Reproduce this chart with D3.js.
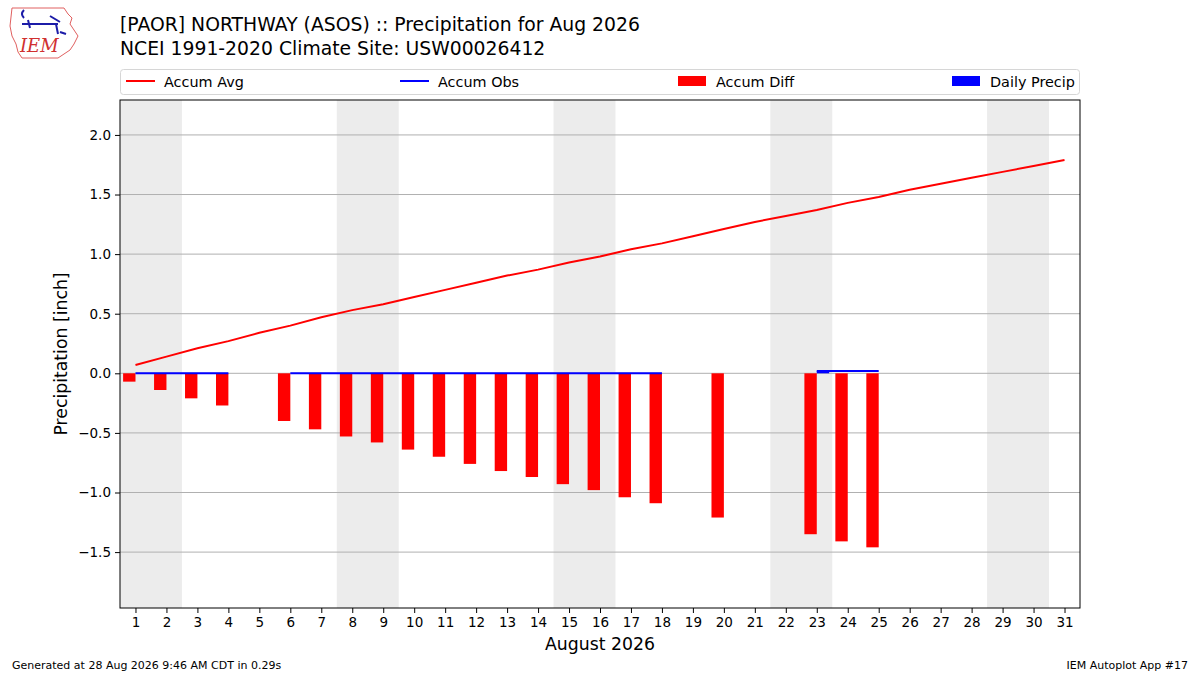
<!DOCTYPE html>
<html>
<head>
<meta charset="utf-8">
<script src="https://cdn.jsdelivr.net/npm/d3@7"></script>
<style>
  body { margin: 0; background: #fff; }
  svg { font-family: "DejaVu Sans", sans-serif; }
</style>
</head>
<body>
<svg id="chart" width="1200" height="675"></svg>
<script>
// values
const days = d3.range(1, 32);
const accumAvg = [0.07, 0.14, 0.21, 0.27, 0.34, 0.40, 0.47, 0.53, 0.58, 0.64,
                  0.70, 0.76, 0.82, 0.87, 0.93, 0.98, 1.04, 1.09, 1.15, 1.21,
                  1.27, 1.32, 1.37, 1.43, 1.48, 1.54, 1.59, 1.64, 1.69, 1.74, 1.79];
const accumObs = [0, 0, 0, 0, null, 0, 0, 0, 0, 0,
                  0, 0, 0, 0, 0, 0, 0, 0, null, 0,
                  null, null, 0.02, 0.02, 0.02, null, null, null, null, null, null];
const accumDiff = [-0.07, -0.14, -0.21, -0.27, null, -0.40, -0.47, -0.53, -0.58, -0.64,
                   -0.70, -0.76, -0.82, -0.87, -0.93, -0.98, -1.04, -1.09, null, -1.21,
                   null, null, -1.35, -1.41, -1.46, null, null, null, null, null, null];
const dailyPrecip = [0, 0, 0, 0, null, 0, 0, 0, 0, 0,
                     0, 0, 0, 0, 0, 0, 0, 0, null, 0,
                     null, null, 0.02, 0, 0, null, null, null, null, null, null];
const weekends = [[1, 2], [8, 9], [15, 16], [22, 23], [29, 30]];
const yTicks = [-1.5, -1.0, -0.5, 0.0, 0.5, 1.0, 1.5, 2.0];
const legendItems = [
  { label: "Accum Avg", color: "red", kind: "line", x: 126 },
  { label: "Accum Obs", color: "blue", kind: "line", x: 400 },
  { label: "Accum Diff", color: "red", kind: "patch", x: 678 },
  { label: "Daily Precip", color: "blue", kind: "patch", x: 952 }
];

const svg = d3.select("#chart");
const margin = { top: 100, right: 120, bottom: 67, left: 120 };
const width = 1200, height = 675;
const plotW = width - margin.left - margin.right;
const plotH = height - margin.top - margin.bottom;

const x = d3.scaleLinear().domain([0.5, 31.5]).range([0, plotW]);
const y = d3.scaleLinear().domain([-1.969, 2.293]).range([plotH, 0]);

const plot = svg.append("g")
  .attr("transform", `translate(${margin.left},${margin.top})`);

// weekend shading
plot.selectAll("rect.weekend").data(weekends)
  .join("rect")
  .attr("class", "weekend")
  .attr("x", d => x(d[0] - 0.5))
  .attr("width", d => x(d[1] + 0.5) - x(d[0] - 0.5))
  .attr("y", 0)
  .attr("height", plotH)
  .attr("fill", "#ececec");

// horizontal grid
plot.selectAll("line.grid").data(yTicks)
  .join("line")
  .attr("class", "grid")
  .attr("x1", 0).attr("x2", plotW)
  .attr("y1", d => y(d)).attr("y2", d => y(d))
  .attr("stroke", "#b0b0b0")
  .attr("stroke-width", 1);

// accumulated difference bars (left of the day)
const diffData = days.map((d, i) => ({ day: d, v: accumDiff[i] })).filter(d => d.v !== null);
plot.selectAll("rect.diff").data(diffData)
  .join("rect")
  .attr("class", "diff")
  .attr("x", d => x(d.day - 0.4))
  .attr("width", x(0.9) - x(0.5))
  .attr("y", d => y(Math.max(0, d.v)))
  .attr("height", d => Math.abs(y(d.v) - y(0)))
  .attr("fill", "red");

// daily precip bars (right of the day)
const precipData = days.map((d, i) => ({ day: d, v: dailyPrecip[i] })).filter(d => d.v);
plot.selectAll("rect.precip").data(precipData)
  .join("rect")
  .attr("class", "precip")
  .attr("x", d => x(d.day))
  .attr("width", x(0.9) - x(0.5))
  .attr("y", d => y(d.v))
  .attr("height", d => y(0) - y(d.v))
  .attr("fill", "blue");

// accum avg line
const avgLine = d3.line().x((d, i) => x(days[i])).y(d => y(d));
plot.append("path")
  .datum(accumAvg)
  .attr("d", avgLine)
  .attr("fill", "none")
  .attr("stroke", "red")
  .attr("stroke-width", 2);

// accum obs line, gaps where missing
const obsLine = d3.line()
  .defined(d => d !== null)
  .x((d, i) => x(days[i]))
  .y(d => y(d));
plot.append("path")
  .datum(accumObs)
  .attr("d", obsLine)
  .attr("fill", "none")
  .attr("stroke", "blue")
  .attr("stroke-width", 2);

// frame
plot.append("rect")
  .attr("width", plotW).attr("height", plotH)
  .attr("fill", "none")
  .attr("stroke", "black")
  .attr("stroke-width", 1);

// axes
const xAxis = plot.append("g")
  .attr("transform", `translate(0,${plotH})`)
  .call(d3.axisBottom(x).tickValues(days).tickFormat(d3.format("d")).tickSizeOuter(0).tickSize(5).tickPadding(4));
const yAxis = plot.append("g")
  .call(d3.axisLeft(y).tickValues(yTicks)
        .tickFormat(d => d3.format(".1f")(d).replace("-", "\u2212"))
        .tickSizeOuter(0).tickSize(5).tickPadding(4));
[xAxis, yAxis].forEach(a => {
  a.select(".domain").remove();
  a.selectAll("text").style("font-size", "13.5px").attr("fill", "black")
    .style("font-family", "'DejaVu Sans', sans-serif");
  a.selectAll("line").attr("stroke", "black");
});

svg.append("text")
  .text("August 2026")
  .attr("x", margin.left + plotW / 2)
  .attr("y", 650)
  .attr("text-anchor", "middle")
  .style("font-size", "17.3px");

svg.append("text")
  .text("Precipitation [inch]")
  .attr("transform", `translate(67,${margin.top + plotH / 2}) rotate(-90)`)
  .attr("text-anchor", "middle")
  .style("font-size", "17.3px");

// titles
svg.append("text")
  .text("[PAOR] NORTHWAY (ASOS) :: Precipitation for Aug 2026")
  .attr("x", 120).attr("y", 31)
  .style("font-size", "18.8px");
svg.append("text")
  .text("NCEI 1991-2020 Climate Site: USW00026412")
  .attr("x", 120).attr("y", 55)
  .style("font-size", "18.8px");

// legend
const legend = svg.append("g");
legend.append("rect")
  .attr("x", 120.5).attr("y", 69.5)
  .attr("width", 959).attr("height", 25)
  .attr("rx", 3)
  .attr("fill", "white")
  .attr("stroke", "#d6d6d6");
legendItems.forEach(d => {
  if (d.kind === "line") {
    legend.append("line")
      .attr("x1", d.x).attr("x2", d.x + 29)
      .attr("y1", 81).attr("y2", 81)
      .attr("stroke", d.color).attr("stroke-width", 2);
  } else {
    legend.append("rect")
      .attr("x", d.x).attr("y", 76)
      .attr("width", 28).attr("height", 10)
      .attr("fill", d.color);
  }
  legend.append("text")
    .text(d.label)
    .attr("x", d.x + 38).attr("y", 86.5)
    .style("font-size", "14.4px");
});

// footer
svg.append("text")
  .text("Generated at 28 Aug 2026 9:46 AM CDT in 0.29s")
  .attr("x", 12).attr("y", 669)
  .style("font-size", "11px");
svg.append("text")
  .text("IEM Autoplot App #17")
  .attr("x", 1188).attr("y", 669)
  .attr("text-anchor", "end")
  .style("font-size", "11px");

// rough IEM logo
const logo = svg.append("g").attr("transform", "translate(8,6)");
logo.append("path")
  .attr("d", "M4,2 L56,2 L60,8 L64,12 L62,18 L66,24 L70,30 L66,38 L62,44 L56,48 L50,52 L14,52 L10,46 L8,38 L4,30 L2,20 Z")
  .attr("fill", "none")
  .attr("stroke", "#e06060")
  .attr("stroke-width", 1);
logo.append("path")
  .attr("d", "M16,4 Q12,8 16,12 M14,18 L50,18 M20,14 L22,22 M42,10 L52,16 M48,18 L50,28 M52,26 L58,28")
  .attr("fill", "none")
  .attr("stroke", "#1c1ca8")
  .attr("stroke-width", 2);
logo.append("text")
  .text("IEM")
  .attr("x", 12).attr("y", 46)
  .attr("fill", "#d03030")
  .style("font-family", "'DejaVu Serif', serif")
  .style("font-style", "italic")
  .style("font-size", "18px");
</script>
</body>
</html>
